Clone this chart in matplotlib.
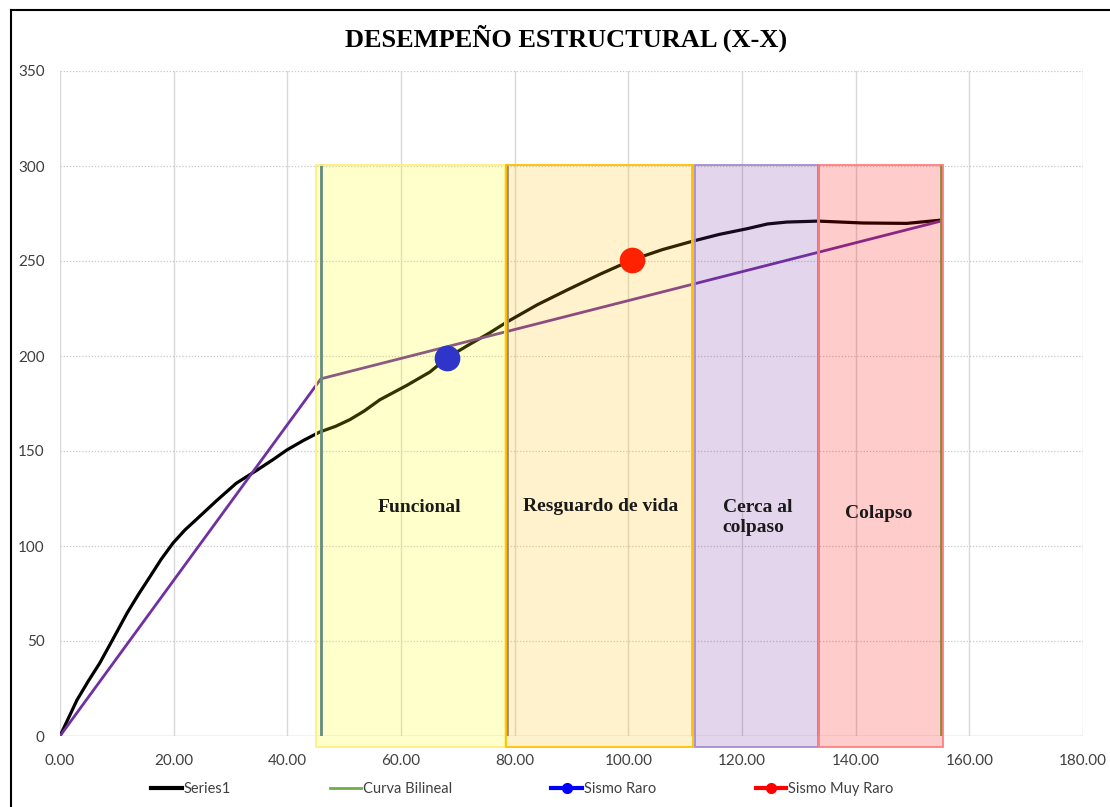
import matplotlib
matplotlib.use("Agg")
import matplotlib.pyplot as plt
from matplotlib.lines import Line2D
from matplotlib.patches import Rectangle

# capacity curve (Series1)
curve_x = [0, 1.5, 3.0, 5.0, 7.0, 9.5, 11.8, 13.8, 15.8, 17.8, 19.9, 22.0, 24.0,
           27.6, 31.0, 34.7, 37.5, 39.9, 42.8, 45.7, 48.5, 51.0, 53.5, 56.3, 61.0,
           65.1, 68.1, 72.0, 75.5, 78.7, 84.0, 89.2, 95.0, 100.6, 106.0, 111.4,
           116.0, 120.9, 124.5, 127.9, 133.4, 141.3, 149.0, 155.0]
curve_y = [0, 9.5, 19, 29, 38.4, 52, 64.7, 74.5, 83.7, 93, 101.6, 108.5, 114,
           124, 133, 140, 145.5, 150.5, 155.5, 160, 163, 166.5, 171, 177, 184.5,
           191.6, 199, 206, 212, 218, 227, 234.7, 243, 250.5, 256, 260.5,
           264, 267, 269.5, 270.5, 271, 270, 269.8, 271.5]

# bilinear curve
bilin_x = [0, 45.9, 155.0]
bilin_y = [0, 188, 271]

# performance points
raro = (68.1, 199)
muy_raro = (100.6, 250.5)

# performance zones
zone_labels = ["Funcional", "Resguardo de vida", "Cerca al\ncolpaso", "Colapso"]
zone_left = [45.0, 78.5, 111.7, 133.6]
zone_right = [78.3, 111.4, 133.4, 155.4]
zone_top = 300.5
zone_bottom = -5.8
zone_colors = ["#FFFF00", "#FFC000", "#7030A0", "#FF0000"]
zone_edges = ["#FFEF80", "#FFC000", "#A58BD0", "#FF7F7F"]
zone_text_x = [63.3, 95.2, 116.6, 144.0]
zone_text_y = [120, 121, 115, 117]
zone_text_ha = ["center", "center", "left", "center"]

# vertical limit lines
limit_x = [45.9, 78.7, 111.2, 133.4, 155.0]
limit_colors = ["#3F6FA0", "#8A7F8A", "#FFC000", "#4472C4", "#70AD47"]

x_ticks = [0, 20, 40, 60, 80, 100, 120, 140, 160, 180]
y_ticks = [0, 50, 100, 150, 200, 250, 300, 350]

fig = plt.figure(figsize=(11.1, 8.07), dpi=100)
ax = fig.add_axes([60 / 1110, 71 / 807, 1023 / 1110, 665 / 807])
ax.set_xlim(0, 180)
ax.set_ylim(0, 350)

for v in x_ticks:
    ax.axvline(v, color="#D9D9D9", lw=1, zorder=0)
for h in y_ticks[1:]:
    ax.axhline(h, color="#C8C8C8", lw=0.9, ls=(0, (1, 1.5)), zorder=0)
ax.axhline(0, color="#BFBFBF", lw=1, zorder=1)

ax.plot(curve_x, curve_y, color="black", lw=2.3, zorder=2,
        solid_capstyle="round", solid_joinstyle="round")
ax.plot(bilin_x, bilin_y, color="#7030A0", lw=2.0, zorder=2)

for lx, lc in zip(limit_x, limit_colors):
    ax.plot([lx, lx], [0, zone_top], color=lc, lw=2, zorder=2)

for left, right, fc, ec in zip(zone_left, zone_right, zone_colors, zone_edges):
    rect = Rectangle((left, zone_bottom), right - left, zone_top - zone_bottom,
                     facecolor=fc, alpha=0.2, lw=0, zorder=3, clip_on=False)
    ax.add_patch(rect)
    edge = Rectangle((left, zone_bottom), right - left, zone_top - zone_bottom,
                     facecolor="none", edgecolor=ec, lw=1.3, zorder=3, clip_on=False)
    ax.add_patch(edge)

ax.plot(*raro, "o", color="#2F35C8", ms=17.5, zorder=4)
ax.plot(*muy_raro, "o", color="#FF2200", ms=17.5, zorder=4)

for txt, tx, ty, ha in zip(zone_labels, zone_text_x, zone_text_y, zone_text_ha):
    ax.text(tx, ty, txt, ha=ha, va="center", fontsize=14, fontweight="bold",
            family="Liberation Serif", color="#1A1A1A", zorder=5, linespacing=1.25)

ax.set_xticks(x_ticks)
ax.set_xticklabels([f"{v:.2f}" for v in x_ticks], family="Lato")
ax.set_yticks(y_ticks)
ax.set_yticklabels([str(v) for v in y_ticks], family="Lato")
ax.tick_params(length=0, labelsize=11, labelcolor="#404040", pad=13)
ax.tick_params(axis="y", pad=11)
for s in ax.spines.values():
    s.set_visible(False)

fig.text(0.51, 0.953, "DESEMPEÑO ESTRUCTURAL (X-X)", ha="center", va="center",
         fontsize=19, fontweight="bold", family="Liberation Serif")

handles = [
    Line2D([], [], color="black", lw=3),
    Line2D([], [], color="#70AD47", lw=2),
    Line2D([], [], color="#0000FF", lw=3, marker="o", ms=7),
    Line2D([], [], color="#FF0000", lw=3, marker="o", ms=7),
]
names = ["Series1", "Curva Bilineal", "Sismo Raro", "Sismo Muy Raro"]
fig.legend(handles, names, loc="center", bbox_to_anchor=(0.4707, 0.022), ncol=4,
           frameon=False, prop={"family": "Lato", "size": 10.5}, handlelength=2.1,
           handletextpad=0.15, columnspacing=6.8, labelcolor="#404040")

# outer frame (left and top)
fig.add_artist(Line2D([11 / 1110, 11 / 1110], [0, 1 - 10 / 807], color="black", lw=1.5))
fig.add_artist(Line2D([11 / 1110, 1], [1 - 10 / 807, 1 - 10 / 807], color="black", lw=1.5))

fig.savefig("out.png", dpi=100)
